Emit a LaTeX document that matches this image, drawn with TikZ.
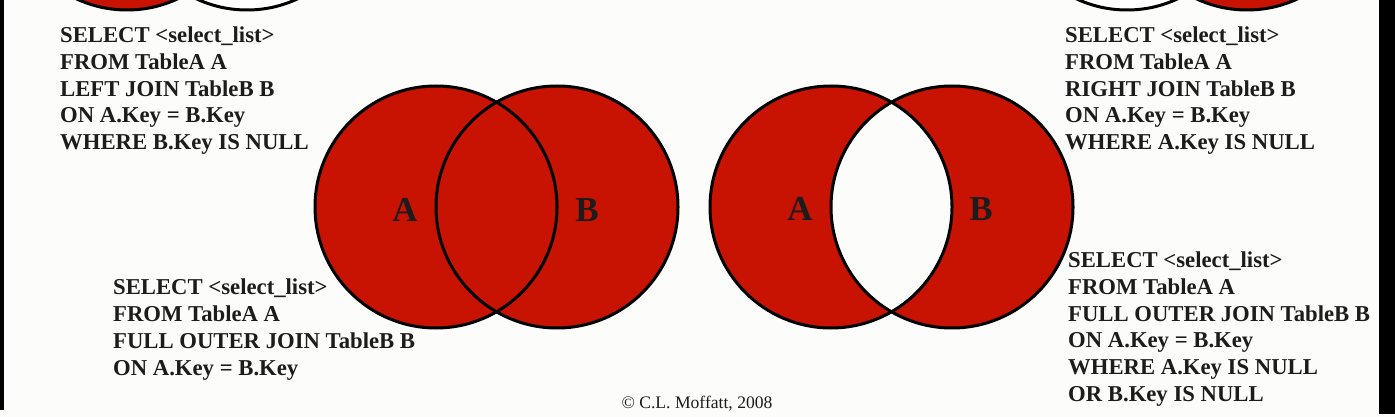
\documentclass[tikz,border=0pt]{standalone}
\usepackage{fontspec}
\setmainfont{Liberation Serif}
\definecolor{vred}{RGB}{200,18,2}
\definecolor{ink}{RGB}{28,28,28}
\definecolor{paper}{RGB}{252,252,250}
\begin{document}
\begin{tikzpicture}[x=1pt,y=-1pt,
  sqltext/.style={anchor=north west, inner sep=0pt, align=left, text=ink,
    font=\fontsize{22.7}{26.8}\selectfont\bfseries},
  setlabel/.style={anchor=base, inner sep=0pt, text=ink,
    font=\fontsize{35}{40}\selectfont\bfseries},
  setline/.style={draw=black, line width=3pt},
  credit/.style={anchor=base, inner sep=0pt, text=ink,
    font=\fontsize{17.6}{20}\selectfont}
]
\useasboundingbox (0,0) rectangle (1395,417);
\clip (0,0) rectangle (1395,417);
\fill[paper] (0,0) rectangle (1395,417);
\fill[black] (0,0) rectangle (4,410);
\fill[black] (1379,0) rectangle (1395,414);

% centres
\coordinate (tlA) at (127,-110);
\coordinate (tlB) at (247,-110);
\coordinate (trA) at (1127,-110);
\coordinate (trB) at (1247,-110);
\coordinate (fA) at (436,207);
\coordinate (fB) at (557,207);
\coordinate (xA) at (831,207);
\coordinate (xB) at (952,207);

% top-left partial (left join)
\fill[white] (tlB) circle[radius=120pt];
\fill[vred] (tlA) circle[radius=120pt];
\draw[setline] (tlA) circle[radius=120pt];
\draw[setline] (tlB) circle[radius=120pt];

% top-right partial (right join)
\fill[white] (trA) circle[radius=120pt];
\fill[vred] (trB) circle[radius=120pt];
\draw[setline] (trA) circle[radius=120pt];
\draw[setline] (trB) circle[radius=120pt];

% full outer join
\fill[vred] (fA) circle[radius=121pt];
\fill[vred] (fB) circle[radius=121pt];
\draw[setline] (fA) circle[radius=121pt];
\draw[setline] (fB) circle[radius=121pt];

% full outer join excluding intersection
\fill[vred, even odd rule] (xA) circle[radius=121pt] (xB) circle[radius=121pt];
\draw[setline] (xA) circle[radius=121pt];
\draw[setline] (xB) circle[radius=121pt];

% set labels
\node[setlabel] (lfA) at (405,221) {A};
\node[setlabel] (lfB) at (587,221) {B};
\node[setlabel] (lxA) at (800,220) {A};
\node[setlabel] (lxB) at (981,220) {B};

% SQL texts
\node[sqltext] (qtl) at (60,26.5) {SELECT <select\_list>\\FROM TableA A\\LEFT JOIN TableB B\\ON A.Key = B.Key\\WHERE B.Key IS NULL};
\node[sqltext] (qtr) at (1065,26.5) {SELECT <select\_list>\\FROM TableA A\\RIGHT JOIN TableB B\\ON A.Key = B.Key\\WHERE A.Key IS NULL};
\node[sqltext] (qbl) at (113,279) {SELECT <select\_list>\\FROM TableA A\\FULL OUTER JOIN TableB B\\ON A.Key = B.Key};
\node[sqltext] (qbr) at (1068,251.5) {SELECT <select\_list>\\FROM TableA A\\FULL OUTER JOIN TableB B\\ON A.Key = B.Key\\WHERE A.Key IS NULL\\OR B.Key IS NULL};

\node[credit] (cr) at (697,408) {© C.L. Moffatt, 2008};
\end{tikzpicture}
\end{document}
